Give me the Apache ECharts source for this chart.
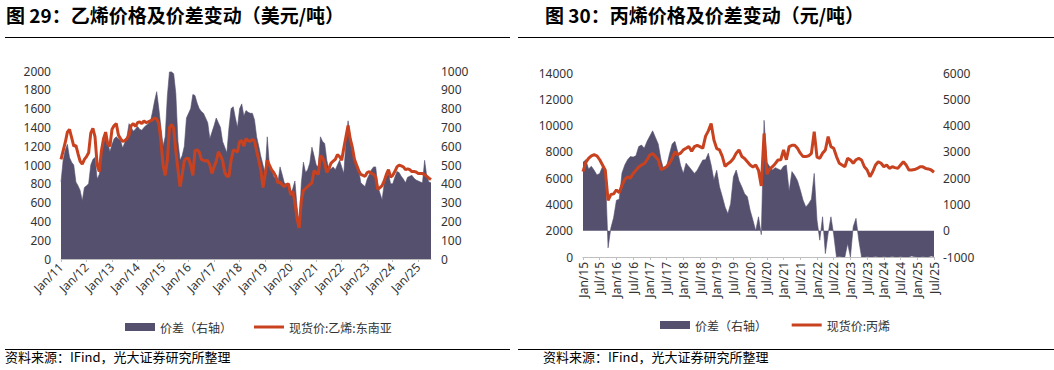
<!DOCTYPE html>
<html>
<head>
<meta charset="utf-8">
<script src="https://cdn.jsdelivr.net/npm/echarts@6/dist/echarts.min.js"></script>
<style>
html,body{margin:0;padding:0;background:#fff;}
#c{width:1054px;height:370px;}
</style>
</head>
<body>
<div id="c"></div>
<script>
// ---------- Chart 1: ethylene (monthly, Jan 2011 – Jul 2025) ----------
const eth_startYear = 2011, eth_months = 175;
// spot price 现货价:乙烯:东南亚 (USD/t, left axis)
const eth_price = [
1060,1150,1240,1350,1380,1290,1200,1210,1120,1040,1010,1060,
1090,1130,1340,1390,1300,1000,930,1150,1280,1350,1220,1200,
1380,1420,1440,1320,1280,1250,1260,1280,1320,1420,1440,1410,
1450,1460,1440,1470,1450,1460,1470,1480,1500,1490,1440,1250,
1000,890,1050,1400,1430,1390,1150,950,770,900,1050,1070,
1070,1000,890,1150,1160,1140,1060,1050,1040,1050,1000,910,
980,1040,1140,1100,1050,920,880,880,1050,1160,1150,1140,
1250,1260,1200,1280,1260,1250,1270,1260,1150,1050,940,760,
900,1050,1000,950,920,880,810,820,790,770,790,800,
680,720,600,430,330,620,730,750,770,790,810,940,
920,900,1100,1080,1020,920,960,1020,1040,1060,1110,1090,
1050,1180,1300,1420,1280,1190,1060,1000,940,900,890,880,
920,930,910,900,870,740,760,780,830,900,950,870,
890,930,980,1000,990,980,950,960,950,930,930,925,
910,910,910,895,880,860,845
];
// spread 价差 (USD/t, right axis)
const eth_spread = [
410,525,580,610,540,515,500,410,390,365,310,380,
390,400,500,530,540,425,450,550,615,650,620,570,
610,640,650,640,630,590,620,650,720,700,680,690,
705,690,685,700,710,720,730,780,840,890,800,700,
600,650,865,995,995,985,880,625,525,550,600,750,
775,800,875,870,830,800,785,775,750,725,640,675,
710,750,725,700,625,595,565,700,800,810,750,700,
800,825,760,790,780,775,775,740,650,600,545,500,
455,650,500,475,440,425,405,490,450,405,395,385,
340,375,415,280,175,400,515,460,475,510,595,550,
500,490,650,625,615,525,475,480,490,475,500,525,
490,455,625,735,650,595,525,500,475,405,395,385,
425,450,475,490,490,385,350,315,400,435,455,400,
400,435,465,460,440,425,405,435,440,445,430,420,
415,410,405,525,440,410,405
];

// ---------- Chart 2: propylene (monthly, Jan 2015 – Jul 2025) ----------
const pro_startYear = 2015, pro_months = 127;
// spot price 现货价:丙烯 (CNY/t, left axis)
const pro_price = [
6500,7200,7500,7700,7780,7700,7400,7000,6600,4300,4750,4800,
5100,4900,5450,5900,6100,6000,6350,6600,6850,7000,7100,7400,
7760,7880,7650,7400,6650,6750,6870,7130,7500,8000,7780,7900,
8150,8270,8400,8050,8400,8500,8400,8270,9200,9600,10150,8900,
8250,8150,7650,6900,7100,7250,7500,7900,8150,7650,7500,7250,
7000,6850,7000,6600,5400,9400,6300,6700,6870,7100,7380,7400,
8150,7400,8400,8500,8500,8270,7900,7640,7640,7700,7890,9540,
7600,7510,7890,8144,9160,8400,8270,7640,7130,7000,6870,7510,
7380,7130,7400,7500,7380,6870,6620,6110,6490,7000,7250,7130,
6870,7000,6740,6870,6800,6740,7000,7250,7000,6620,6620,6650,
6740,6870,6860,6740,6700,6620,6450
];
// spread 价差 (CNY/t, right axis)
const pro_spread = [
2600,2700,2350,2450,2300,2120,2180,2440,2310,-650,100,500,
1160,1200,2200,2500,2700,2820,2800,2850,3200,3260,3140,3400,
3600,3800,3550,3300,2700,2310,2440,2900,3300,3400,3000,2500,
2180,2570,2440,2310,2180,2300,2500,2690,2700,2950,2500,1930,
2300,1670,1300,900,650,1030,2050,2310,1900,1670,1410,1290,
780,400,0,530,-150,4200,2600,2440,2310,2400,2350,2300,
2450,2500,1500,2250,2100,1900,1550,1160,900,1030,1200,2180,
400,-360,530,-870,-100,530,-150,-1000,-980,-1000,-1000,-490,
-1000,150,470,-360,-1000,-1000,-990,-1000,-1000,-980,-1000,-1000,
-990,-1000,-1000,-980,-1000,-1000,-990,-1000,-1000,-1000,-960,-990,
-1000,-1000,-990,-1000,-1000,-960,-990
];

const monNames = ['Jan','Feb','Mar','Apr','May','Jun','Jul','Aug','Sep','Oct','Nov','Dec'];
function makeCats(startYear, n){
  const out = [];
  for (let i = 0; i < n; i++){
    const y = startYear + Math.floor(i/12);
    out.push(monNames[i%12] + '/' + String(y).slice(2));
  }
  return out;
}
const eth_categories = makeCats(eth_startYear, eth_months);
const pro_categories = makeCats(pro_startYear, pro_months);

const SLATE = '#56506f';
const RED = '#c8421f';
const TXT = '#333333';
const FONT = "'Noto Sans', 'Noto Sans CJK SC', sans-serif";
const CJK = "'Noto Sans CJK SC', sans-serif";
const LINE_ICON = 'path://M0,0 L30,0 L30,3 L0,3 Z';

const chart = echarts.init(document.getElementById('c'), null, {renderer:'svg'});

function yLabel(margin){
  return {color: TXT, fontSize: 12, fontFamily: FONT, margin: margin, formatter: function(v){return String(v);}};
}
const option = {
  animation: false,
  backgroundColor: '#fff',
  textStyle: {fontFamily: FONT},
  grid: [
    {left: 61, top: 71, width: 370, height: 188},
    {left: 583, top: 73, width: 351, height: 184}
  ],
  legend: [
    {
      left: 120, top: 316, itemWidth: 30, itemHeight: 8, itemGap: 22, symbolKeepAspect: true,
      textStyle: {color: TXT, fontSize: 12, fontFamily: CJK},
      data: [{name: '价差（右轴）', icon: 'rect'}, {name: '现货价:乙烯:东南亚', icon: LINE_ICON}]
    },
    {
      left: 655, top: 314, itemWidth: 30, itemHeight: 8, itemGap: 22, symbolKeepAspect: true,
      textStyle: {color: TXT, fontSize: 12, fontFamily: CJK},
      data: [{name: '价差（右轴） ', icon: 'rect'}, {name: '现货价:丙烯', icon: LINE_ICON}]
    }
  ],
  xAxis: [
    {
      type: 'category', gridIndex: 0, data: eth_categories, boundaryGap: false,
      axisLine: {lineStyle: {color: '#bfbfbf', width: 1}},
      axisTick: {interval: function(i){return i % 12 === 0;}, length: 3, lineStyle: {color: '#bfbfbf'}},
      axisLabel: {interval: function(i){return i % 12 === 0;}, rotate: 45, color: TXT, fontSize: 12, fontFamily: FONT, margin: 6},
      splitLine: {show: false}
    },
    {
      type: 'category', gridIndex: 1, data: pro_categories, boundaryGap: false,
      axisLine: {lineStyle: {color: '#bfbfbf', width: 1}},
      axisTick: {interval: function(i){return i % 6 === 0;}, length: 3, lineStyle: {color: '#bfbfbf'}},
      axisLabel: {interval: function(i){return i % 6 === 0;}, rotate: 90, color: TXT, fontSize: 12, fontFamily: FONT, margin: 5},
      splitLine: {show: false}
    }
  ],
  yAxis: [
    {type: 'value', gridIndex: 0, min: 0, max: 2000, interval: 200, position: 'left',
     axisLine: {show: false}, axisTick: {show: false}, splitLine: {show: false}, axisLabel: yLabel(10)},
    {type: 'value', gridIndex: 0, min: 0, max: 1000, interval: 100, position: 'right',
     axisLine: {show: false}, axisTick: {show: false}, splitLine: {show: false}, axisLabel: yLabel(10)},
    {type: 'value', gridIndex: 1, min: 0, max: 14000, interval: 2000, position: 'left',
     axisLine: {show: false}, axisTick: {show: false}, splitLine: {show: false}, axisLabel: yLabel(10)},
    {type: 'value', gridIndex: 1, min: -1000, max: 6000, interval: 1000, position: 'right',
     axisLine: {show: false}, axisTick: {show: false}, splitLine: {show: false}, axisLabel: yLabel(9)}
  ],
  series: [
    {
      name: '价差（右轴）', type: 'line', xAxisIndex: 0, yAxisIndex: 1, data: eth_spread,
      showSymbol: false, symbol: 'none', lineStyle: {width: 0.6, color: SLATE},
      itemStyle: {color: SLATE}, areaStyle: {color: SLATE, opacity: 1}, z: 1
    },
    {
      name: '现货价:乙烯:东南亚', type: 'line', xAxisIndex: 0, yAxisIndex: 0, data: eth_price,
      showSymbol: false, symbol: 'none', lineStyle: {width: 3, color: RED},
      itemStyle: {color: RED}, z: 3
    },
    {
      name: '价差（右轴） ', type: 'line', xAxisIndex: 1, yAxisIndex: 3, data: pro_spread,
      showSymbol: false, symbol: 'none', lineStyle: {width: 0.6, color: SLATE},
      itemStyle: {color: SLATE}, areaStyle: {color: SLATE, opacity: 1, origin: 0}, z: 1
    },
    {
      name: '现货价:丙烯', type: 'line', xAxisIndex: 1, yAxisIndex: 2, data: pro_price,
      showSymbol: false, symbol: 'none', lineStyle: {width: 3, color: RED},
      itemStyle: {color: RED}, z: 3
    }
  ],
  graphic: [
    {type: 'text', left: 6, top: 5, style: {text: '图 29：乙烯价格及价差变动（美元/吨）', fill: '#000', font: "bold 19px 'Noto Sans CJK SC', sans-serif"}},
    {type: 'text', left: 545, top: 5, style: {text: '图 30：丙烯价格及价差变动（元/吨）', fill: '#000', font: "bold 19px 'Noto Sans CJK SC', sans-serif"}},
    {type: 'line', shape: {x1: 5, y1: 37.5, x2: 510, y2: 37.5}, style: {stroke: '#000', lineWidth: 1}},
    {type: 'line', shape: {x1: 518, y1: 37.5, x2: 1054, y2: 37.5}, style: {stroke: '#000', lineWidth: 1}},
    {type: 'line', shape: {x1: 5, y1: 349.5, x2: 510, y2: 349.5}, style: {stroke: '#000', lineWidth: 1}},
    {type: 'line', shape: {x1: 518, y1: 349.5, x2: 1054, y2: 349.5}, style: {stroke: '#000', lineWidth: 1}},
    {type: 'text', left: 5, top: 350, style: {text: '资料来源：IFind，光大证券研究所整理', fill: '#000', font: "13px 'Noto Sans CJK SC', sans-serif"}},
    {type: 'text', left: 543, top: 350, style: {text: '资料来源：IFind，光大证券研究所整理', fill: '#000', font: "13px 'Noto Sans CJK SC', sans-serif"}}
  ]
};
chart.setOption(option);
</script>
</body>
</html>
